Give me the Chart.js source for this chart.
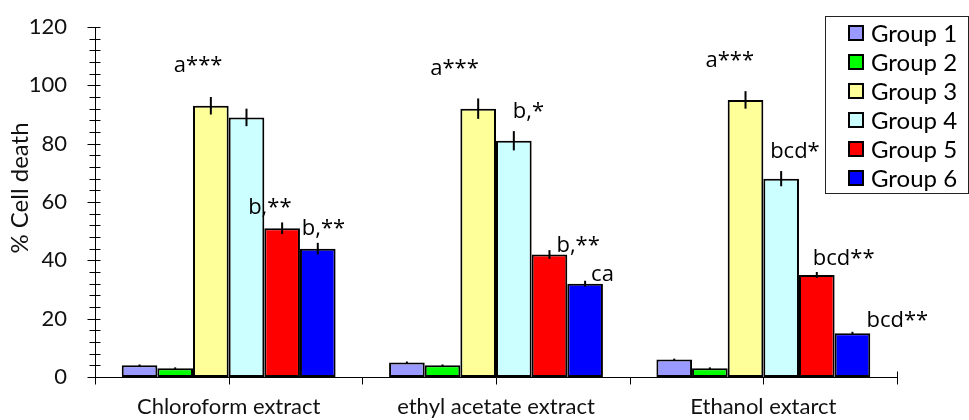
<!DOCTYPE html>
<html>
<head>
<meta charset="utf-8">
<script src="https://cdn.jsdelivr.net/npm/chart.js@4.4.1/dist/chart.umd.min.js"></script>
<style>
  html, body { margin: 0; padding: 0; background: #fff; }
  #wrap { width: 969px; height: 420px; }
</style>
</head>
<body>
<div id="wrap"><canvas id="cellDeath" width="969" height="420"></canvas></div>
<script>
// extracts on the x axis
const extracts = ['Chloroform extract', 'ethyl acetate extract', 'Ethanol extarct'];
const groupNames = ['Group 1', 'Group 2', 'Group 3', 'Group 4', 'Group 5', 'Group 6'];

// % cell death per group, one value per extract
const group1 = [4, 5, 6];
const group2 = [3, 4, 3];
const group3 = [93, 92, 95];
const group4 = [89, 81, 68];
const group5 = [51, 42, 35];
const group6 = [44, 32, 15];

// error (+/-) per group
const err1 = [0.3, 0.3, 0.3];
const err2 = [0.3, 0.3, 0.3];
const err3 = [3, 3.5, 3];
const err4 = [3, 3.3, 2.6];
const err5 = [2, 1.5, 1];
const err6 = [2, 1, 0.5];

// y axis ticks
const yTicks = [0, 20, 40, 60, 80, 100, 120];

// significance marks: text, group index, extract index
const marks = [
  ['a***', 2, 0], ['b,**', 4, 0], ['b,**', 5, 0],
  ['a***', 2, 1], ['b,*', 3, 1], ['b,**', 4, 1], ['ca', 5, 1],
  ['a***', 2, 2], ['bcd*', 3, 2], ['bcd**', 4, 2], ['bcd**', 5, 2]
];
// where each mark sits relative to its bar top (px)
const markOffsets = [
  [-37, -34], [-34, -14], [-16, -14],
  [-48, -34], [-1, -23], [7, -3], [6, -3],
  [-40, -33], [-11, -21], [-4, -10], [14, -6]
];

const fills = ['#9999ff', '#00ff00', '#ffff99', '#ccffff', '#ff0000', '#0000ff'];
const values = [group1, group2, group3, group4, group5, group6];
const errors = [err1, err2, err3, err4, err5, err6];
const FONT = 'Lato, "Noto Sans", sans-serif';
const MARK_FONT = '"Open Sans", "Noto Sans", sans-serif';

const extras = {
  id: 'extras',
  afterDatasetsDraw(chart) {
    const ctx = chart.ctx;
    const x = chart.scales.x, y = chart.scales.y;
    ctx.save();
    ctx.strokeStyle = '#000';

    // error bars, no caps
    ctx.lineWidth = 2;
    chart.data.datasets.forEach((ds, di) => {
      chart.getDatasetMeta(di).data.forEach((bar, i) => {
        const e = errors[di][i];
        ctx.beginPath();
        ctx.moveTo(bar.x, y.getPixelForValue(ds.data[i] + e));
        ctx.lineTo(bar.x, y.getPixelForValue(ds.data[i] - e));
        ctx.stroke();
      });
    });

    // y ticks crossing the axis, minor every 4
    ctx.lineWidth = 1;
    const ax = Math.round(x.left) + 0.5;
    for (let v = y.min; v <= y.max; v += 4) {
      const py = Math.round(y.getPixelForValue(v)) + 0.5;
      const major = v % 20 === 0;
      ctx.beginPath();
      ctx.moveTo(ax - (major ? 8 : 6), py);
      ctx.lineTo(ax + 5, py);
      ctx.stroke();
    }

    // x ticks at category edges and centres
    const step = (x.getPixelForValue(1) - x.getPixelForValue(0)) / 2;
    const bottom = Math.round(y.bottom) + 0.5;
    for (let k = 0; k <= extracts.length * 2; k++) {
      const px = Math.round(x.left + k * step) + 0.5;
      ctx.beginPath();
      ctx.moveTo(px, bottom + (k === extracts.length * 2 ? -6 : 0));
      ctx.lineTo(px, bottom + 7);
      ctx.stroke();
    }

    // axis title, rotated
    ctx.fillStyle = '#111';
    ctx.save();
    ctx.translate(20, 188);
    ctx.rotate(-Math.PI / 2);
    ctx.font = '24px ' + FONT;
    ctx.textAlign = 'center';
    ctx.textBaseline = 'middle';
    ctx.fillText('% Cell death', 0, 0);
    ctx.restore();

    // significance marks
    ctx.fillStyle = '#000';
    ctx.font = '22px ' + MARK_FONT;
    ctx.textAlign = 'left';
    ctx.textBaseline = 'alphabetic';
    marks.forEach(([t, g, c], i) => {
      const bar = chart.getDatasetMeta(g).data[c];
      ctx.fillText(t, bar.x + markOffsets[i][0], bar.y + markOffsets[i][1]);
    });

    // boxed legend
    const lx = 825.5, ly = 16.5, lw = 143, lh = 177;
    ctx.fillStyle = '#fff';
    ctx.fillRect(lx, ly, lw, lh);
    ctx.strokeStyle = '#222';
    ctx.strokeRect(lx, ly, lw, lh);
    ctx.font = '24px ' + FONT;
    ctx.textBaseline = 'middle';
    chart.data.datasets.forEach((ds, i) => {
      const cy = 33 + i * 29;
      ctx.fillStyle = ds.backgroundColor;
      ctx.fillRect(849, cy - 7, 14, 14);
      ctx.lineWidth = 2;
      ctx.strokeStyle = '#000';
      ctx.strokeRect(849, cy - 7, 14, 14);
      ctx.fillStyle = '#000';
      ctx.fillText(ds.label, 871, cy + 1);
    });
    ctx.restore();
  }
};

new Chart(document.getElementById('cellDeath'), {
  type: 'bar',
  data: {
    labels: extracts,
    datasets: groupNames.map((name, i) => ({
      label: name,
      data: values[i],
      backgroundColor: fills[i],
      borderColor: '#000',
      borderWidth: 2,
      borderSkipped: false,
      categoryPercentage: 0.8,
      barPercentage: 1.0
    }))
  },
  options: {
    responsive: false,
    animation: false,
    layout: { padding: { top: 27, right: 72, left: 0, bottom: 0 } },
    plugins: { legend: { display: false }, tooltip: { enabled: false } },
    scales: {
      x: {
        grid: { display: false, drawTicks: false },
        border: { display: true, color: '#000', width: 1 },
        ticks: { color: '#111', font: { family: FONT, size: 22 }, padding: 17, maxRotation: 0 },
        afterFit: s => { s.height = 43; }
      },
      y: {
        min: 0, max: 120,
        grid: { display: false, drawTicks: false },
        border: { display: true, color: '#000', width: 1 },
        afterBuildTicks: s => { s.ticks = yTicks.map(v => ({ value: v })); },
        ticks: { color: '#111', font: { family: FONT, size: 22 }, padding: 28 },
        afterFit: s => { s.width = 95; s.paddingTop = 0; s.paddingBottom = 0; }
      }
    }
  },
  plugins: [extras]
});
</script>
</body>
</html>
